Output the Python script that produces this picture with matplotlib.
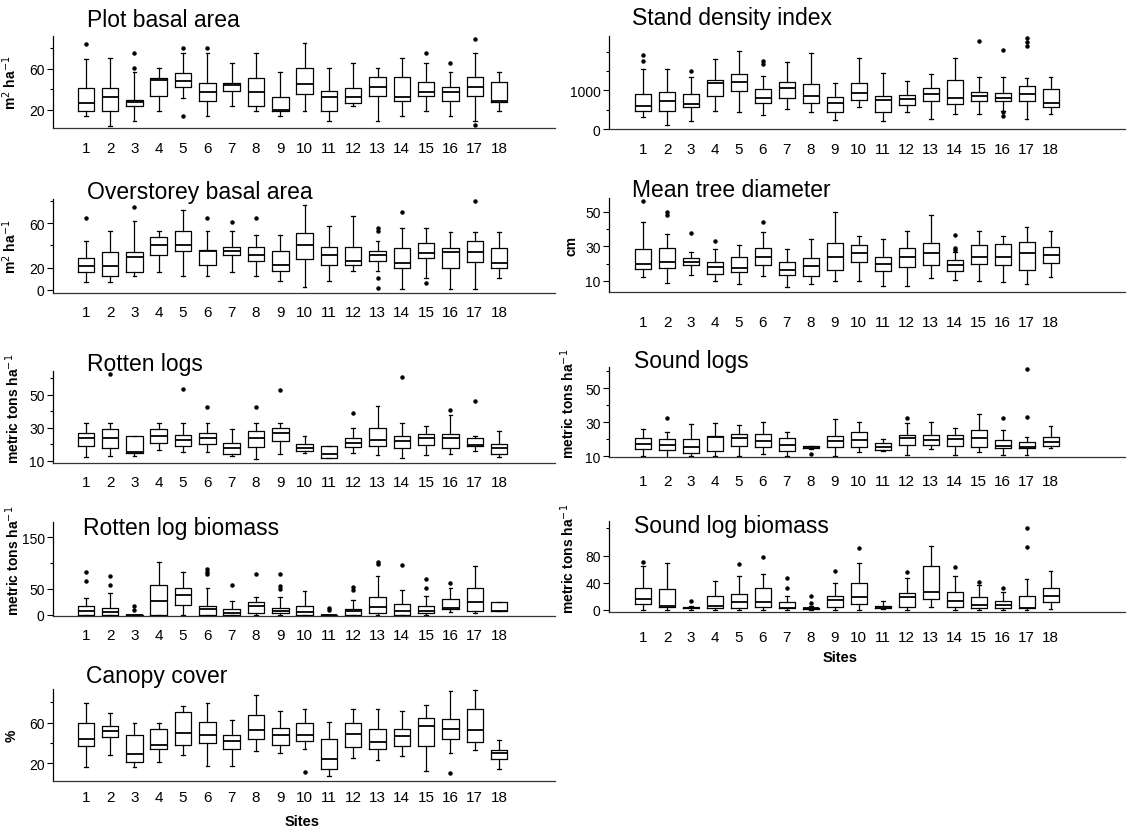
import matplotlib.pyplot as plt

plt.rcParams['font.family'] = ['Liberation Sans', 'DejaVu Sans']

sites = list(range(1, 19))

# box stats per site: (whisker low, q1, median, q3, whisker high), plus outliers
plot_ba = [(14, 19, 27, 41, 70), (4.5, 19, 32.6, 41.6, 70.6), (9.4, 24, 28, 30, 57),
           (19, 33.5, 48.7, 51.3, 61), (32, 42.3, 48, 56, 75.5), (14, 28.7, 37.7, 46.5, 75.5),
           (24, 38.4, 43.9, 46.5, 65.8), (19, 24, 37.7, 51.3, 75.5), (14, 19, 20, 33, 57),
           (19, 35.8, 44.8, 61, 85), (9.4, 19, 32.6, 38.4, 61), (24, 26.5, 32.9, 41.6, 65.8),
           (9.4, 33.5, 42.6, 52, 61), (14.2, 28.7, 32.9, 52, 70.6), (19, 33.5, 37.7, 47, 65.8),
           (14.2, 28.7, 37.7, 42.3, 56.8), (9.4, 33.5, 42.6, 52, 75.5), (19, 27.7, 28.7, 47.4, 56.8)]
plot_ba_out = [[84], [], [61, 75], [], [80, 14], [80], [], [], [], [], [], [], [], [],
               [75.5], [65.8], [89, 5.2], []]

sdi = [(300, 470, 600, 900, 1560), (100, 470, 730, 960, 1560), (210, 560, 640, 900, 1330),
       (470, 860, 1180, 1270, 1800), (430, 980, 1220, 1410, 2010), (360, 660, 800, 1030, 1370),
       (510, 790, 1050, 1220, 1730), (440, 670, 860, 1170, 1970), (240, 440, 670, 830, 1200),
       (560, 740, 920, 1200, 1840), (210, 430, 740, 860, 1450), (440, 620, 770, 870, 1240),
       (270, 730, 900, 1070, 1410), (400, 640, 800, 1260, 1840), (390, 730, 860, 960, 1330),
       (470, 730, 810, 920, 1330), (260, 730, 900, 1110, 1310), (390, 580, 680, 1040, 1330)]
sdi_out = [[1750, 1900], [], [1500], [], [], [1690, 1750], [], [], [], [], [], [], [], [],
           [2270], [2030, 430, 340], [2350, 2240, 2150], []]

over_ba = [(7, 16, 21, 29, 44), (7, 12, 21, 34, 53), (12, 16, 30, 34, 62), (16, 31, 40, 48, 53),
           (12, 35, 40, 53, 72), (12, 22, 35, 35.5, 53), (16, 31, 35, 39, 53), (12, 26, 31, 39, 49),
           (8, 17, 22, 35, 49), (2, 28, 40, 51, 77), (8, 22, 31, 39, 58), (17, 22, 26, 39, 67),
           (17, 26, 31, 35, 44), (1, 20, 24, 38, 56), (11, 29, 33, 42, 56), (1, 20, 34, 38, 52),
           (1, 25, 34, 44, 52), (11, 20, 24, 38, 52)]
over_ba_out = [[64.5], [], [74.5], [], [], [65], [61], [65], [], [], [], [],
               [56, 53, 11, 1.5], [70], [6], [], [80], []]

diam = [(12, 17, 20, 28.5, 44), (8.7, 17.5, 21, 29, 37), (13.5, 19, 21, 23, 26.5),
        (10, 14, 18, 21, 28.5), (8.3, 15, 17.5, 23.7, 31), (12.7, 19.4, 23.7, 29, 38.5),
        (6.3, 13.5, 16.3, 21, 28.5), (8.3, 12.7, 18.8, 23, 34), (10, 16.3, 23.7, 31.7, 50),
        (10, 21, 26, 31, 36), (7.3, 15.6, 20, 24, 34), (7, 18, 23.7, 28.8, 39),
        (11.7, 19.4, 26, 31.7, 48), (10.6, 15.6, 19.4, 22.3, 26.5), (9.8, 20, 24, 31, 39),
        (9.2, 19.2, 23.7, 31.3, 36), (8.3, 16.3, 26, 32.3, 41), (12.5, 20.4, 25, 29.8, 39)]
diam_out = [[56], [48, 50], [37.5], [33], [], [44.4], [], [], [], [], [], [], [],
            [28, 29, 36.5], [], [], [], []]

rotten = [(12, 19, 23.5, 26.6, 33), (13, 17.5, 23.5, 29, 33), (13, 14.4, 15, 25.2, 25.2),
          (16.7, 21, 25, 29, 32.6), (15.5, 19, 22.5, 25.8, 32.6), (15, 20, 23.5, 26.8, 32.6),
          (12.6, 14, 18, 20.5, 29), (11, 18.5, 23.7, 27.8, 33), (14, 21.7, 26.8, 30, 32.6),
          (14.4, 16, 18, 20, 24.7), (11.4, 11.4, 14, 18.7, 18.7), (14.6, 18.5, 21, 23.7, 29.6),
          (13.4, 19, 22.5, 29.6, 43), (11.4, 17.7, 21.7, 25.2, 33), (13.4, 19.7, 23.7, 26.2, 30.8),
          (14, 17.5, 23.7, 26.2, 38), (16, 18.7, 19.5, 23.7, 24.7), (12, 14, 18, 20, 27.8)]
rotten_out = [[], [62.5], [], [], [53.4], [42.3], [], [42.3], [52.8], [], [], [38.7], [],
              [61], [], [41], [46.4], []]

sound = [(10.4, 14.3, 17.3, 20.6, 26), (9, 13.7, 16.7, 20.2, 24.5), (10.4, 11.8, 15.3, 20.2, 29),
         (10.4, 12.9, 21.2, 22.2, 29.4), (10.4, 16.3, 20.6, 23.1, 28.6), (11.4, 15.3, 19.2, 23.1, 30),
         (10.4, 13.3, 16.7, 20.8, 24.1), (14.3, 14.7, 15.3, 15.9, 16.3), (10.4, 15.3, 18.8, 22.2, 32),
         (12.7, 15.7, 19.6, 24.1, 30), (12.9, 13.9, 15.3, 17.6, 20.2), (10.8, 16.9, 20.8, 22.7, 29.4),
         (14.3, 16.7, 19.6, 22.5, 30), (10.8, 15.9, 20.2, 22.7, 26.5), (12.4, 15.3, 20.8, 25.5, 34.9),
         (10.8, 14.7, 16.3, 19.6, 25.7), (10.8, 14.7, 15.7, 18.2, 21.6), (14.7, 15.9, 18.2, 21.2, 27.6)]
sound_out = [[], [32.5], [], [], [], [], [], [11.4], [], [], [], [32.4], [], [], [],
             [32.4], [61.4, 33.3], []]

rotten_bio = [(0, 0, 8, 17, 32), (0, 0, 4.5, 14, 42), (0, 0, 0, 0, 0), (0, 0, 26, 58, 103),
              (0, 19, 39, 52, 82), (0, 0, 11, 17.5, 51), (0, 0, 3, 11, 26), (0, 2.6, 16, 24, 33.6),
              (0, 2.6, 6.5, 14, 33.6), (0, 0, 4.5, 17.5, 46.5), (0, 0, 0, 0, 0), (0, 0, 6.5, 12, 28),
              (0, 2.6, 15.5, 33.6, 75.6), (0, 0, 6.5, 20.7, 48.5), (0, 3.2, 6.5, 16, 37),
              (5.8, 11, 13, 30.4, 51.7), (3.2, 6.5, 24, 51.7, 95), (6.5, 6.5, 7, 24, 24)]
rotten_bio_out = [[66, 83], [57.5, 75.6], [10, 16], [], [], [80, 83, 88.6], [58], [80],
                  [50, 55, 79], [], [9.7, 14], [48, 54], [98, 103], [96], [52, 69], [61], [], []]

sound_bio = [(0, 9, 16, 32, 65), (0, 5, 6.4, 31, 69), (0.5, 2.5, 3.4, 5, 5.4), (0.5, 3, 6.4, 21, 42),
             (0.5, 2.5, 11, 23.5, 49.5), (0.5, 5, 11, 32, 53), (0.5, 2.5, 3, 11, 21),
             (0.5, 1.5, 2.5, 3, 6.4), (0.5, 4, 14.7, 21, 39), (0.5, 9, 19.6, 39, 69),
             (1.5, 3, 5, 6.4, 12.7), (0.5, 5, 18.6, 25, 46.6), (4, 16, 26, 65, 93.6),
             (0.5, 4, 13.7, 27, 49.5), (0.5, 2.5, 7.8, 19.6, 37.3), (0.5, 2.5, 7.8, 13.7, 26),
             (0.5, 2.5, 3, 21, 45.6), (1.5, 11, 21, 32.4, 57.8)]
sound_bio_out = [[70], [], [13.7], [], [67.6], [77.5], [32, 46.6], [9.8, 21], [57], [90.7], [],
                 [56.4], [], [62.7], [41.7], [33], [92, 120], []]

canopy = [(16, 37, 44, 60, 79), (28, 45.5, 52, 57, 69), (16, 21, 29, 48, 60), (21, 34.5, 38.4, 53.5, 60),
          (28, 37.7, 49.7, 70, 76.5), (17.4, 40, 48, 61, 79), (17, 34, 41.6, 48, 63),
          (32, 44, 52.3, 67.4, 87.4), (30, 38.4, 48, 54.5, 71.6), (34, 42.3, 47.4, 59.4, 73),
          (7.7, 14.2, 24, 44, 61), (25, 36, 49, 60, 73), (23, 34.5, 40.6, 54, 73),
          (27, 37, 47, 53.5, 71), (12.6, 37.4, 56.8, 64.8, 77), (30, 44, 54, 64, 90.6),
          (33, 41, 52.3, 73, 91.6), (14, 24.5, 30.3, 33.5, 43)]
canopy_out = [[], [], [], [], [], [], [], [], [], [11.6], [], [], [], [], [], [10], [], []]

W, H = 1130, 829
tons = 'metric tons ha$^{-1}$'
m2 = 'm$^2$ ha$^{-1}$'

# title, stats, outliers, ylabel, ylim, major, minor, (x0, x1, top, bottom), title x, title baseline, xpad, xlim
panels = [
    ('Plot basal area', plot_ba, plot_ba_out, m2, (2.3, 92), [20, 60], [40, 80],
     (53, 555, 37, 129), 87, 27, 9.5, (-0.35, 20.3)),
    ('Stand density index', sdi, sdi_out, '', (0, 2400), [0, 1000], [500, 1500, 2000],
     (609, 1125, 37, 130), 632, 25, 9, (-0.42, 21.1)),
    ('Overstorey basal area', over_ba, over_ba_out, m2, (-3, 82), [0, 20, 60], [40, 80],
     (53, 555, 200, 294), 87, 199, 8.5, (-0.35, 20.3)),
    ('Mean tree diameter', diam, diam_out, 'cm', (3.6, 58), [10, 30, 50], [20, 40],
     (609, 1125, 199, 293), 632, 197, 16.5, (-0.42, 21.1)),
    ('Rotten logs', rotten, rotten_out, tons, (8.6, 64.4), [10, 30, 50], [20, 40, 60],
     (53, 555, 372, 464), 87, 371, 8.5, (-0.35, 20.3)),
    ('Sound logs', sound, sound_out, tons, (9.6, 62.5), [10, 30, 50], [20, 40, 60],
     (609, 1125, 368, 458), 634, 368, 12, (-0.42, 21.1)),
    ('Rotten log biomass', rotten_bio, rotten_bio_out, tons, (-2.5, 180), [0, 50, 150], [100],
     (53, 555, 523, 617), 83, 535, 9, (-0.35, 20.3)),
    ('Sound log biomass', sound_bio, sound_bio_out, tons, (-3, 131), [0, 40, 80], [120],
     (609, 1125, 522, 613), 634, 533, 13, (-0.42, 21.1)),
    ('Canopy cover', canopy, canopy_out, '%', (2.6, 93), [20, 60], [40, 80],
     (53, 555, 690, 782), 86, 683, 6.5, (-0.35, 20.3)),
]

fig = plt.figure(figsize=(W / 100, H / 100), dpi=100)

for (title, stats, outs, ylab, ylim, major, minor, box, tx, ty, xpad, xlim) in panels:
    x0, x1, top, bottom = box
    ax = fig.add_axes([x0 / W, 1 - bottom / H, (x1 - x0) / W, (bottom - top) / H])
    bxp_stats = []
    for s, o in zip(stats, outs):
        bxp_stats.append({'whislo': s[0], 'q1': s[1], 'med': s[2], 'q3': s[3],
                          'whishi': s[4], 'fliers': o})
    ax.bxp(bxp_stats, positions=sites, widths=0.68, capwidths=0.15, showfliers=True,
           boxprops=dict(color='black', linewidth=0.9),
           medianprops=dict(color='black', linewidth=1.3),
           whiskerprops=dict(color='black', linewidth=0.9),
           capprops=dict(color='black', linewidth=0.9),
           flierprops=dict(marker='o', markerfacecolor='black', markeredgecolor='black',
                           markersize=2.2, linestyle='none'))
    ax.set_xlim(*xlim)
    ax.set_ylim(*ylim)
    ax.set_xticks(sites)
    ax.set_xticklabels([str(s) for s in sites])
    ax.set_yticks(major)
    ax.set_yticks(minor, minor=True)
    ax.tick_params(axis='x', length=0, pad=xpad, labelsize=11)
    ax.tick_params(axis='y', which='major', length=4, width=0.8, labelsize=10, pad=2)
    ax.tick_params(axis='y', which='minor', length=2.5, width=0.8)
    for side in ['top', 'right']:
        ax.spines[side].set_visible(False)
    ax.spines['left'].set_linewidth(0.9)
    ax.spines['bottom'].set_linewidth(0.9)
    ax.spines['bottom'].set_color('#333333')
    if ylab:
        ax.set_ylabel(ylab, fontsize=10, fontweight='bold')
        if ylab == tons:
            ax.yaxis.set_label_coords(-0.062, 0.6)
        else:
            ax.yaxis.set_label_coords(-0.068 if x0 < 300 else -0.06, 0.5)
    fig.text(tx / W, 1 - ty / H, title, fontsize=16.5, va='baseline', ha='left')

fig.text(840 / W, 1 - 658 / H, 'Sites', fontsize=10.5, fontweight='bold', ha='center', va='center')
fig.text(302 / W, 1 - 822 / H, 'Sites', fontsize=10.5, fontweight='bold', ha='center', va='center')

fig.savefig('out.png', dpi=100)
